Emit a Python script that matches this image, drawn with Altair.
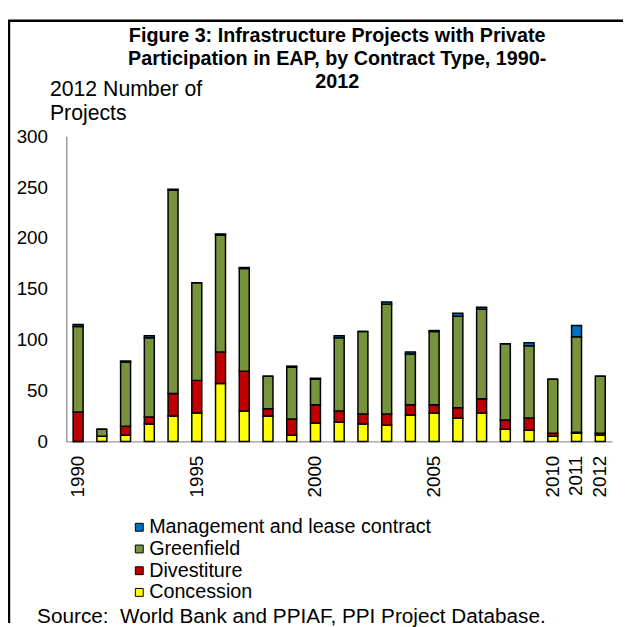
import altair as alt
import pandas as pd

years = [str(y) for y in range(1990, 2013)]
concession = [0, 5, 6, 17, 25, 28, 57, 30, 25, 6, 18, 19, 17, 16, 26, 28, 23, 28, 12, 11, 5, 8, 6]
divestiture = [29, 0, 9, 7, 22, 32, 31, 39, 7, 16, 18, 11, 10, 11, 10, 8, 10, 14, 9, 12, 3, 1, 2]
greenfield = [84, 7, 63, 78, 200, 96, 115, 101, 32, 51, 25, 72, 81, 108, 50, 72, 90, 88, 75, 71, 53, 94, 56]
management = [2, 0, 1, 2, 1, 0, 1, 1, 0, 1, 1, 2, 0, 2, 2, 1, 3, 2, 0, 3, 0, 11, 0]

series = ["Management and lease contract", "Greenfield", "Divestiture", "Concession"]
colors = ["#0070C0", "#77933C", "#C00000", "#FFFF00"]
stack_order = {"Concession": 0, "Divestiture": 1, "Greenfield": 2, "Management and lease contract": 3}
shown_years = ["1990", "1995", "2000", "2005", "2010", "2011", "2012"]

rows = []
for name, vals in [("Concession", concession), ("Divestiture", divestiture),
                   ("Greenfield", greenfield), ("Management and lease contract", management)]:
    for y, v in zip(years, vals):
        rows.append({"year": y, "type": name, "value": v, "ord": stack_order[name]})
df = pd.DataFrame(rows)

FONT = "Liberation Sans"
label_expr = "indexof(" + str(shown_years) + ", datum.label) >= 0 ? datum.label : ''"

bars = alt.Chart(df).mark_bar(stroke="black", strokeWidth=1.5).encode(
    x=alt.X("year:O", sort=years,
            scale=alt.Scale(paddingInner=0.58, paddingOuter=0.29),
            axis=alt.Axis(title="Source:\u00a0 World Bank and PPIAF, PPI Project Database.",
                          titleFont=FONT, titleFontSize=21, titleFontWeight="normal",
                          titleColor="black", titleAnchor="start", titleAlign="left",
                          titleBaseline="alphabetic", titleX=-30, titleY=183,
                          labelAngle=-90, labelFont=FONT, labelFontSize=19, labelColor="black",
                          labelPadding=14, labelExpr=label_expr, ticks=False,
                          domainColor="#999999", domainWidth=1.5, labelOverlap=False)),
    y=alt.Y("value:Q", stack="zero",
            scale=alt.Scale(domain=[0, 300], nice=False),
            axis=alt.Axis(title=["2012 Number of", "Projects"], titleAngle=0,
                          titleAlign="left", titleBaseline="top", titleX=-17, titleY=-58,
                          titleFont=FONT, titleFontSize=21.5, titleFontWeight="normal",
                          titleColor="black", titleLineHeight=23.5,
                          values=[0, 50, 100, 150, 200, 250, 300], grid=False, ticks=False,
                          labelFont=FONT, labelFontSize=19, labelColor="black", labelPadding=19,
                          domainColor="#999999", domainWidth=1.5)),
    color=alt.Color("type:N", scale=alt.Scale(domain=series, range=colors),
                    legend=alt.Legend(title=None, orient="none", legendX=64, legendY=386,
                                      symbolType="square", symbolSize=64,
                                      symbolStrokeColor="black", symbolStrokeWidth=1,
                                      labelFont=FONT, labelFontSize=20, labelColor="black",
                                      labelOffset=0, labelLimit=0, rowPadding=2)),
    order=alt.Order("ord:Q", sort="ascending"),
)

frame = alt.Chart(pd.DataFrame({"k": [0]})).mark_rule(color="black", strokeWidth=2.5).encode(
    x=alt.value(-58), y=alt.value(-117), y2=alt.value(493))
frame_top = alt.Chart(pd.DataFrame({"k": [0]})).mark_rule(color="black", strokeWidth=2.5).encode(
    x=alt.value(-59), x2=alt.value(570), y=alt.value(-117))

chart = alt.layer(bars, frame, frame_top).properties(
    width=553, height=309,
    title=alt.TitleParams(
        text=["Figure 3: Infrastructure Projects with Private",
              "Participation in EAP, by Contract Type, 1990-", "2012"],
        font=FONT, fontSize=20, fontWeight="bold", color="black",
        anchor="middle", lineHeight=23, offset=-73, dx=-2),
    autosize=alt.AutoSizeParams(type="none"),
    padding={"left": 59, "top": 126, "right": 11, "bottom": 184},
).configure_view(stroke=None)

chart.save("out.html", embed_options={"renderer": "svg", "actions": False})
